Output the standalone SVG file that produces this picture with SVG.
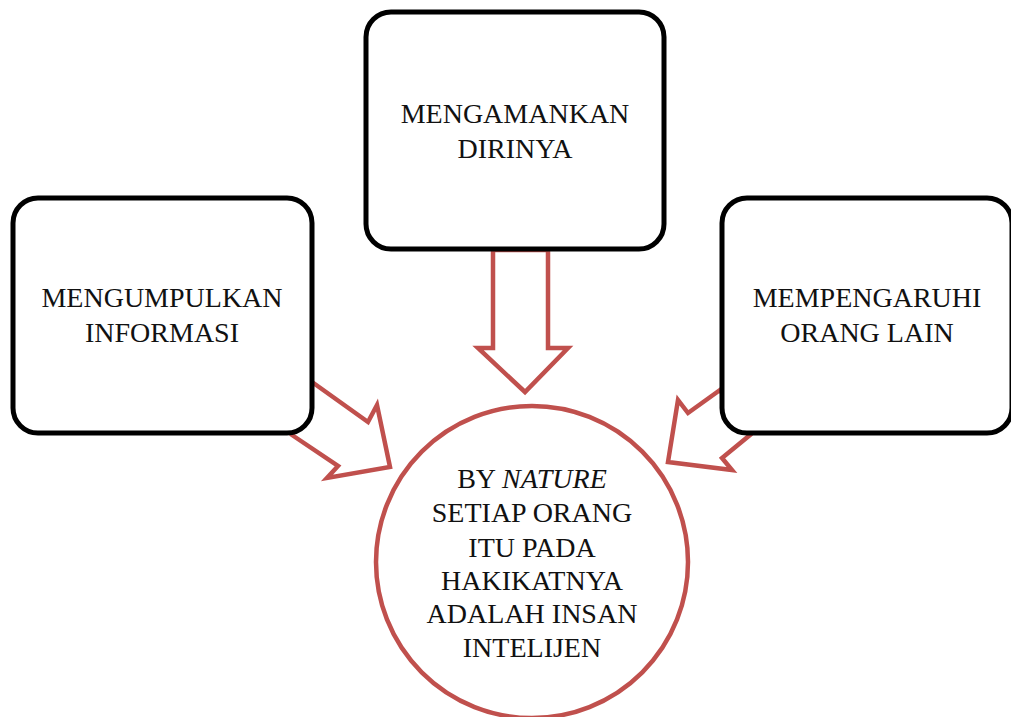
<svg xmlns="http://www.w3.org/2000/svg" width="1011" height="717" viewBox="0 0 1011 717">
<style>
.box{fill:#fff;stroke:#000;stroke-width:5}
.arr{fill:#fff;stroke:#C0504D;stroke-width:4.5;stroke-linejoin:miter}
.circ{fill:#fff;stroke:#C0504D;stroke-width:4.5}
.t{font-family:"Liberation Serif","Times New Roman",serif;font-size:28px;fill:#111;text-anchor:middle}
</style>
<rect width="1011" height="717" fill="#fff"/>
<g id="connectors">
<path class="arr" d="M312,382 L368,422 L377,405 L390,467 L327,478 L338,466 L292,435 Z"/>
<path class="arr" d="M493,250 L493,348 L478,348 L525,392 L568,348 L548,348 L548,250 Z"/>
<path class="arr" d="M720,390 L688,413 L678,400 L668,462 L732,470 L722,458 L750,435 Z"/>
</g>
<g id="box-left">
<rect class="box" x="13" y="198" width="299" height="235" rx="25"/>
<text class="t" x="162" y="307">MENGUMPULKAN</text>
<text class="t" x="162" y="342">INFORMASI</text>
</g>
<g id="box-top">
<rect class="box" x="366" y="12" width="298" height="237" rx="25"/>
<text class="t" x="515" y="123">MENGAMANKAN</text>
<text class="t" x="515" y="158">DIRINYA</text>
</g>
<g id="box-right">
<rect class="box" x="722" y="198" width="290" height="235" rx="25"/>
<text class="t" x="867" y="307">MEMPENGARUHI</text>
<text class="t" x="867" y="342">ORANG LAIN</text>
</g>
<g id="circle">
<circle class="circ" cx="532" cy="562" r="156"/>
<text class="t" x="532" y="488">BY <tspan font-style="italic">NATURE</tspan></text>
<text class="t" x="532" y="522">SETIAP ORANG</text>
<text class="t" x="532" y="557">ITU PADA</text>
<text class="t" x="532" y="590">HAKIKATNYA</text>
<text class="t" x="532" y="623">ADALAH INSAN</text>
<text class="t" x="532" y="657">INTELIJEN</text>
</g>
</svg>
